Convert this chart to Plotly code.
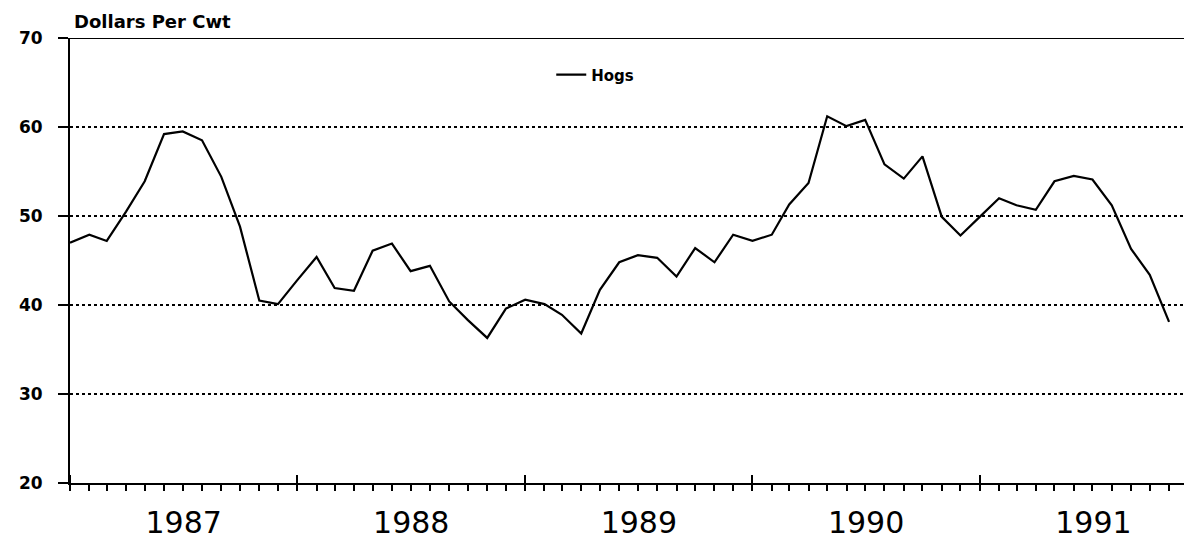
import pandas as pd
import plotly.graph_objects as go

# Monthly hog prices, dollars per cwt
v1987 = [47.0, 47.9, 47.2, 50.5, 53.9, 59.2, 59.5, 58.5, 54.4, 48.8, 40.5, 40.1]
v1988 = [42.8, 45.4, 41.9, 41.6, 46.1, 46.9, 43.8, 44.4, 40.4, 38.3, 36.3, 39.6]
v1989 = [40.6, 40.1, 38.9, 36.8, 41.7, 44.8, 45.6, 45.3, 43.2, 46.4, 44.8, 47.9]
v1990 = [47.2, 47.9, 51.3, 53.7, 61.2, 60.1, 60.8, 55.8, 54.2, 56.7, 49.9, 47.8]
v1991 = [49.9, 52.0, 51.2, 50.7, 53.9, 54.5, 54.1, 51.2, 46.3, 43.4, 38.1]

hogs = v1987 + v1988 + v1989 + v1990 + v1991
months = pd.date_range("1987-01-01", periods=len(hogs), freq="MS")

y_ticks = [20, 30, 40, 50, 60, 70]

fig = go.Figure()
fig.add_trace(go.Scatter(
    x=months, y=hogs, mode="lines", name="Hogs",
    line=dict(color="black", width=2.2),
))

fig.update_layout(
    width=1184, height=539,
    margin=dict(l=70, r=0, t=38, b=56),
    paper_bgcolor="white", plot_bgcolor="white",
    font=dict(family="DejaVu Sans", color="black"),
    showlegend=True,
    legend=dict(
        x=0.432, y=0.917, xanchor="left", yanchor="middle",
        bgcolor="rgba(0,0,0,0)",
        font=dict(size=15, weight="bold"),
    ),
    xaxis=dict(
        type="date",
        range=["1987-01-01", "1991-11-25"],
        tick0="1987-01-01", dtick="M12",
        tickformat="%Y", ticklabelmode="period",
        ticks="inside", ticklen=8, tickwidth=2, tickcolor="black",
        tickfont=dict(size=30, family="DejaVu Sans"),
        ticklabelstandoff=12,
        minor=dict(dtick="M1", ticks="outside", ticklen=6, tickwidth=2,
                   tickcolor="black", showgrid=False),
        showgrid=False, zeroline=False,
        showline=True, linecolor="black", linewidth=2,
    ),
    yaxis=dict(
        range=[20, 70], tickvals=y_ticks,
        ticks="outside", ticklen=10, tickwidth=2, tickcolor="black",
        tickfont=dict(size=17, weight="bold"),
        ticklabelstandoff=12,
        showgrid=True, gridcolor="black", griddash="dot", gridwidth=1.5,
        zeroline=False,
        showline=True, linecolor="black", linewidth=2,
    ),
    shapes=[dict(type="line", xref="paper", yref="y", x0=0, x1=1, y0=70, y1=70,
                 line=dict(color="black", width=2))],
    annotations=[dict(
        text="Dollars Per Cwt", xref="paper", yref="paper",
        x=0, y=1.038, xanchor="left", yanchor="middle", xshift=2,
        showarrow=False, font=dict(size=18, weight="bold"),
    )],
)

fig.write_html(
    "out.html",
    config={"displayModeBar": False},
    post_script="document.body.style.margin='0';document.body.style.padding='0';"
                "document.documentElement.style.overflow='hidden';",
)
